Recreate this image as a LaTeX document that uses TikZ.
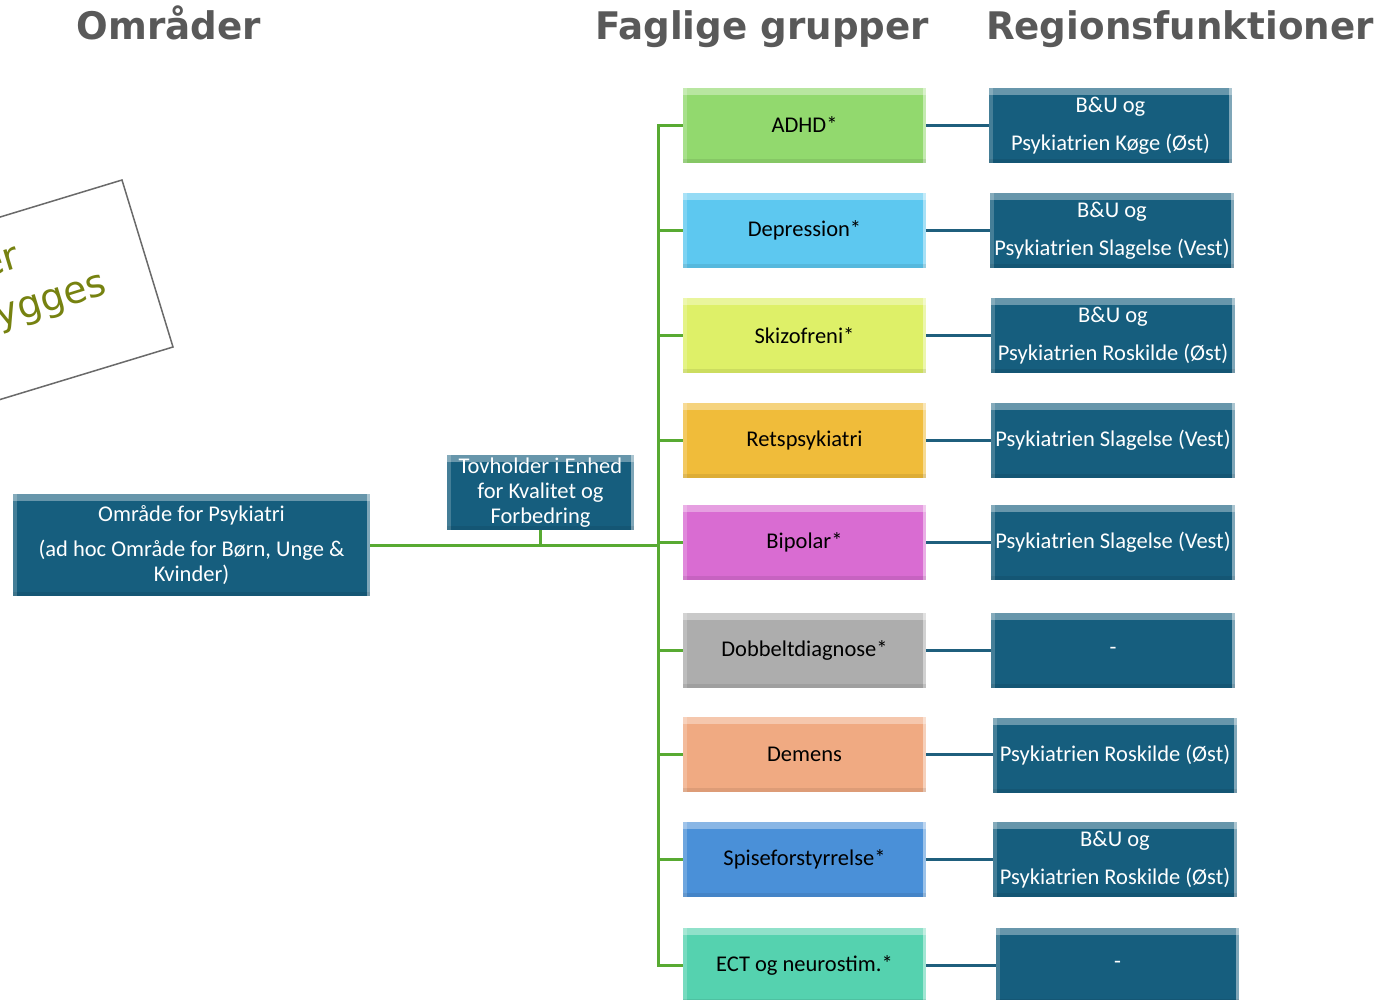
\documentclass[tikz,border=0pt]{standalone}
\usepackage{fontspec}
\setmainfont{Carlito}
\newfontfamily\hfont{DejaVu Sans}[FakeStretch=0.98]
\newfontfamily\rfont{DejaVu Sans}
\definecolor{hgray}{RGB}{89,89,89}
\definecolor{olive}{RGB}{118,130,16}
\definecolor{regblue}{RGB}{22,94,126}
\definecolor{lnblue}{RGB}{31,95,125}
\definecolor{lngreen}{RGB}{88,170,50}
\definecolor{cadhd}{RGB}{146,217,110}
\definecolor{cdep}{RGB}{93,200,240}
\definecolor{cskiz}{RGB}{222,240,104}
\definecolor{crets}{RGB}{240,188,58}
\definecolor{cbip}{RGB}{217,108,210}
\definecolor{cdob}{RGB}{173,173,173}
\definecolor{cdem}{RGB}{240,170,130}
\definecolor{cspi}{RGB}{74,144,216}
\definecolor{cect}{RGB}{85,210,175}
\tikzset{
  bevel/.style={path picture={
    \fill[white,opacity=.35] (path picture bounding box.north west) rectangle ([yshift=-7pt]path picture bounding box.north east);
    \fill[white,opacity=.2] (path picture bounding box.north west) rectangle ([xshift=4pt]path picture bounding box.south west);
    \fill[white,opacity=.45] ([xshift=-3pt]path picture bounding box.north east) rectangle (path picture bounding box.south east);
    \fill[black,opacity=.08] ([yshift=4pt]path picture bounding box.south west) rectangle (path picture bounding box.south east);
  }},
  boxtext/.style={font=\fontsize{22.5}{25}\selectfont, align=center, inner sep=0pt},
  midbox/.style={bevel, boxtext, fill=#1, text=black, minimum width=243pt, minimum height=75pt},
  regbox/.style={bevel, boxtext, fill=regblue, text=white, minimum width=244pt, minimum height=75pt},
  header/.style={font=\hfont\bfseries\fontsize{38}{40}\selectfont, text=hgray, anchor=base, inner sep=0pt},
  gline/.style={draw=lngreen, line width=3pt},
  bline/.style={draw=lnblue, line width=3pt},
  rottext/.style={font=\rfont\fontsize{38}{44}\selectfont, text=olive, rotate=17, anchor=base east, inner sep=0pt},
}
\begin{document}
\begin{tikzpicture}[x=1pt,y=-1pt]
\useasboundingbox (0,0) rectangle (1380,999);
\clip (0,0) rectangle (1380,999);

% headers
\node[header] (h1) at (169,39) {Områder};
\node[header] (h2) at (762,39) {Faglige grupper};
\node[header] (h3) at (1180,39) {Regionsfunktioner};

% rotated note
\draw[draw=hgray!90, line width=1.5pt, fill=white] (122,180) -- (173,347) -- (-18,405) -- (-69,238) -- cycle;
\node[rottext] (n1) at (22,267) {Under};
\node[rottext] (n2) at (109,294) {opbygges};

% left boxes
\node[regbox, minimum width=357pt, minimum height=102pt] (L) at (191.5,545)
  {Område for Psykiatri\\[10pt](ad hoc Område for Børn, Unge \&\\Kvinder)};
\node[regbox, minimum width=187pt, minimum height=75pt] (T) at (540.5,492.5)
  {Tovholder i Enhed\\for Kvalitet og\\Forbedring};

% middle boxes
\node[midbox=cadhd] (m1) at (804.5,125) {ADHD*};
\node[midbox=cdep]  (m2) at (804.5,230.5) {Depression*};
\node[midbox=cskiz] (m3) at (804.5,335.5) {Skizofreni*};
\node[midbox=crets] (m4) at (804.5,440.5) {Retspsykiatri};
\node[midbox=cbip]  (m5) at (804.5,542.5) {Bipolar*};
\node[midbox=cdob]  (m6) at (804.5,650.5) {Dobbeltdiagnose*};
\node[midbox=cdem]  (m7) at (804.5,754.5) {Demens};
\node[midbox=cspi]  (m8) at (804.5,859.5) {Spiseforstyrrelse*};
\node[midbox=cect]  (m9) at (804.5,965) {ECT og neurostim.*};

% right boxes
\node[regbox, minimum width=243pt] (r1) at (1110.5,125.5) {B\&U og\\[13pt]Psykiatrien Køge (Øst)};
\node[regbox] (r2) at (1112,230.5) {B\&U og\\[13pt]Psykiatrien Slagelse (Vest)};
\node[regbox] (r3) at (1113,335.5) {B\&U og\\[13pt]Psykiatrien Roskilde (Øst)};
\node[regbox] (r4) at (1113,440.5) {Psykiatrien Slagelse (Vest)};
\node[regbox] (r5) at (1113,542.5) {Psykiatrien Slagelse (Vest)};
\node[regbox] (r6) at (1113,650.5) {-};
\node[regbox] (r7) at (1115,755) {Psykiatrien Roskilde (Øst)};
\node[regbox] (r8) at (1115,859.5) {B\&U og\\[13pt]Psykiatrien Roskilde (Øst)};
\node[regbox, minimum width=243pt] (r9) at (1117.5,965) {-};

% green connectors
\coordinate (tr) at (658,545);
\draw[gline] (L.east) -- (tr);
\draw[gline] (T.south) -- (T.south |- tr);
\draw[gline] (m1.west) -| (tr |- m9.west) -- (m9.west);
\foreach \i in {2,...,8} {
  \draw[gline] (tr |- m\i.west) -- (m\i.west);
}

% blue connectors
\foreach \i in {1,...,9} {
  \draw[bline] (m\i.east) -- (m\i.east -| r\i.west);
}
\end{tikzpicture}
\end{document}
